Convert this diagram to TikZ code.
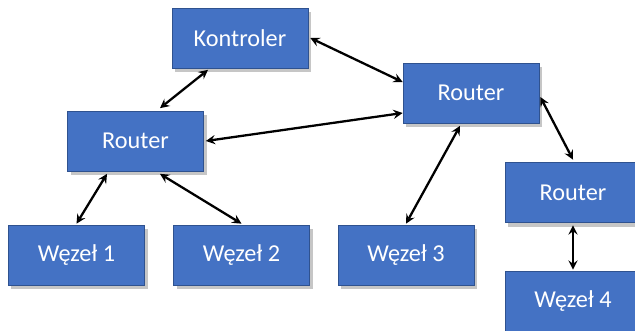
\documentclass[tikz,border=0pt]{standalone}
\usepackage{fontspec}
\setmainfont{Carlito}
\usetikzlibrary{shadows, arrows}
\definecolor{boxblue}{HTML}{4472C4}
\definecolor{boxedge}{HTML}{2F528F}
\tikzstyle{device} = [
    rectangle,
    minimum width=2.72cm,
    minimum height=1.2cm,
    fill=boxblue,
    draw=boxedge,
    text=white,
    font=\fontsize{13.8}{16}\selectfont,
    drop shadow={shadow xshift=0.06cm, shadow yshift=-0.08cm, opacity=0.45}
]
\tikzstyle{arrow} = [line width=1.3pt,<->,>=stealth]
\begin{document}
\begin{tikzpicture}

\clip (0,0) rectangle (12.7,-6.6);

\node (kontroler) [device] at (4.8,-0.76) {Kontroler};

\node (routerA) [device] at (9.42,-1.86) {Router};

\node (routerB) [device] at (2.71,-2.82) {Router};

\node (routerC) [device] at (11.46,-3.85) {Router};

\node (wezel1) [device] at (1.53,-5.1) {Węzeł 1};

\node (wezel2) [device] at (4.83,-5.1) {Węzeł 2};

\node (wezel3) [device] at (8.12,-5.1) {Węzeł 3};

\node (wezel4) [device] at (11.46,-6.02) {Węzeł 4};

\draw [arrow] ([xshift=0.49cm,yshift=0.05cm]routerB.north) -- ([xshift=-0.64cm,yshift=-0.03cm]kontroler.south);
\draw [arrow] ([xshift=0.04cm]kontroler.east) -- ([yshift=0.22cm]routerA.west);
\draw [arrow] ([xshift=0.04cm]routerB.east) -- ([yshift=-0.4cm]routerA.west);
\draw [arrow] ([xshift=-0.22cm,yshift=-0.05cm]routerA.south) -- ([yshift=0.02cm]wezel3.north);
\draw [arrow] ([xshift=0.02cm,yshift=-0.08cm]routerA.east) -- ([yshift=0.05cm]routerC.north);
\draw [arrow] ([xshift=-0.57cm,yshift=-0.05cm]routerB.south) -- ([yshift=0.02cm]wezel1.north);
\draw [arrow] ([xshift=0.49cm,yshift=-0.05cm]routerB.south) -- ([yshift=0.02cm]wezel2.north);
\draw [arrow] ([yshift=-0.05cm]routerC.south) -- ([yshift=0.02cm]wezel4.north);

\end{tikzpicture}
\end{document}
